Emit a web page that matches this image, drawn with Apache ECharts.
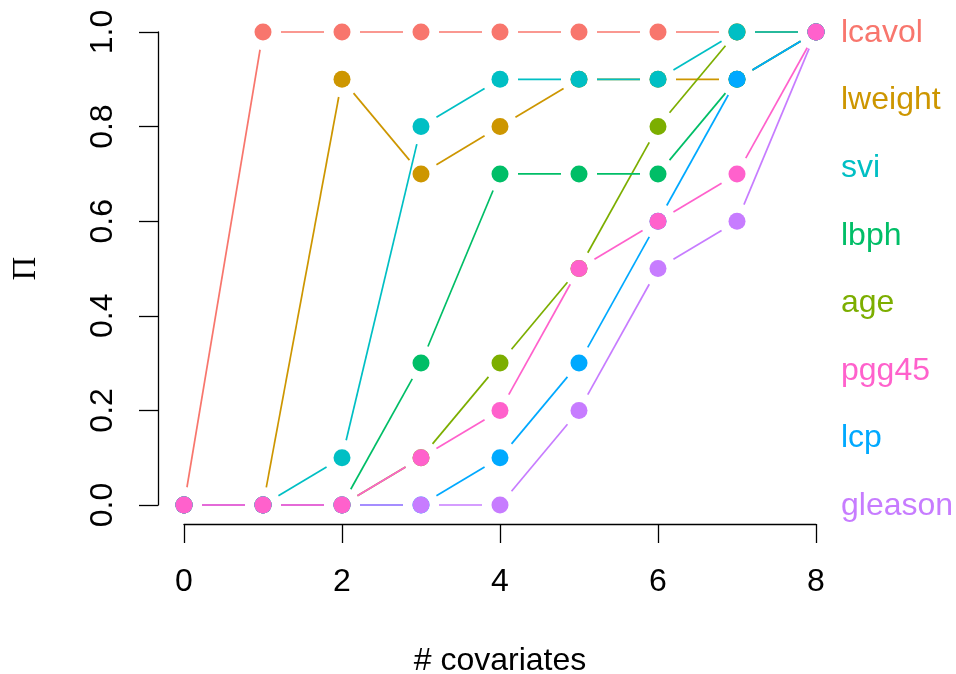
<!DOCTYPE html>
<html><head><meta charset="utf-8">
<script src="https://cdn.jsdelivr.net/npm/echarts@6/dist/echarts.min.js"></script>
<style>html,body{margin:0;padding:0;background:#fff}#c{width:956px;height:674px}</style>
</head><body><div id="c"></div>
<script>
// covariate counts on x axis
const xValues = [0, 1, 2, 3, 4, 5, 6, 7, 8];
// series in drawing order (column order)
const seriesNames = ['lcavol', 'lweight', 'age', 'lbph', 'svi', 'lcp', 'gleason', 'pgg45'];
const lcavol  = [0, 1, 1, 1, 1, 1, 1, 1, 1];
const lweight = [0, 0, 0.9, 0.7, 0.8, 0.9, 0.9, 0.9, 1];
const age     = [0, 0, 0, 0.1, 0.3, 0.5, 0.8, 1, 1];
const lbph    = [0, 0, 0, 0.3, 0.7, 0.7, 0.7, 0.9, 1];
const svi     = [0, 0, 0.1, 0.8, 0.9, 0.9, 0.9, 1, 1];
const lcp     = [0, 0, 0, 0, 0.1, 0.3, 0.6, 0.9, 1];
const gleason = [0, 0, 0, 0, 0, 0.2, 0.5, 0.6, 1];
const pgg45   = [0, 0, 0, 0.1, 0.2, 0.5, 0.6, 0.7, 1];
const seriesValues = {lcavol, lweight, age, lbph, svi, lcp, gleason, pgg45};
const colors = {lcavol:'#F8766D', lweight:'#CD9600', age:'#7CAE00', lbph:'#00BE67',
                svi:'#00BFC4', lcp:'#00A9FF', gleason:'#C77CFF', pgg45:'#FF61CC'};
// right-side label order, top to bottom
const labelOrder = ['lcavol', 'lweight', 'svi', 'lbph', 'age', 'pgg45', 'lcp', 'gleason'];
const xTicks = [0, 2, 4, 6, 8];
const yTicks = [0, 0.2, 0.4, 0.6, 0.8, 1.0];

const FONT = '"Liberation Sans", Arial, sans-serif';
const FS = 32;
const R = 8.5, GAP = 18;

const chart = echarts.init(document.getElementById('c'), null, {renderer:'canvas'});

const series = seriesNames.map(name => {
  const vals = seriesValues[name];
  const col = colors[name];
  return {
    type: 'custom', name: name,
    data: xValues.map((x, i) => [x, vals[i]]),
    renderItem: function (params, api) {
      const i = params.dataIndex;
      const p = api.coord([xValues[i], vals[i]]);
      const children = [];
      if (i < xValues.length - 1) {
        const q = api.coord([xValues[i + 1], vals[i + 1]]);
        const dx = q[0] - p[0], dy = q[1] - p[1];
        const len = Math.sqrt(dx * dx + dy * dy);
        if (len > 2 * GAP) {
          const ux = dx / len, uy = dy / len;
          children.push({type:'line', shape:{x1:p[0] + ux * GAP, y1:p[1] + uy * GAP,
                         x2:q[0] - ux * GAP, y2:q[1] - uy * GAP},
                         style:{stroke:col, lineWidth:1.7}});
        }
      }
      children.push({type:'circle', shape:{cx:p[0], cy:p[1], r:R}, style:{fill:col}});
      return {type:'group', children: children};
    },
    silent: true
  };
});

series.push({
  type: 'custom', name: 'labels',
  data: labelOrder.map((n, i) => [8, 1 - i / 7, n]),
  renderItem: function (params, api) {
    const n = labelOrder[params.dataIndex];
    const p = api.coord([8, 1 - params.dataIndex / 7]);
    return {type:'text', x: p[0] + 25, y: p[1] + 1,
            style:{text:n, fill:colors[n], font:FS + 'px ' + FONT, textAlign:'left', textVerticalAlign:'middle'}};
  },
  silent: true
});

chart.setOption({
  backgroundColor: '#fff',
  animation: false,
  grid: {left:184, right:140, top:32, bottom:169, outerBoundsMode:'none', containLabel:false},
  xAxis: {
    type:'value', min:0, max:8, interval:2, offset:19,
    name:'# covariates', nameLocation:'middle', nameGap:121,
    nameTextStyle:{fontFamily:FONT, fontSize:FS, color:'#000'},
    axisLine:{show:true, onZero:false, lineStyle:{color:'#000', width:1.3}},
    axisTick:{show:true, length:19, lineStyle:{color:'#000', width:1.3}},
    axisLabel:{fontFamily:FONT, fontSize:FS, color:'#000', margin:42},
    splitLine:{show:false}
  },
  yAxis: {
    type:'value', min:0, max:1, interval:0.2, offset:26,
    name:'Π', nameLocation:'middle', nameGap:115, nameRotate:90,
    nameTextStyle:{fontFamily:'"Liberation Serif", serif', fontSize:33, color:'#000'},
    axisLine:{show:true, onZero:false, lineStyle:{color:'#000', width:1.3}},
    axisTick:{show:true, length:19, lineStyle:{color:'#000', width:1.3}},
    axisLabel:{fontFamily:FONT, fontSize:FS, color:'#000', margin:39, rotate:90,
               formatter: v => v.toFixed(1)},
    splitLine:{show:false}
  },
  series: series
});
</script></body></html>
